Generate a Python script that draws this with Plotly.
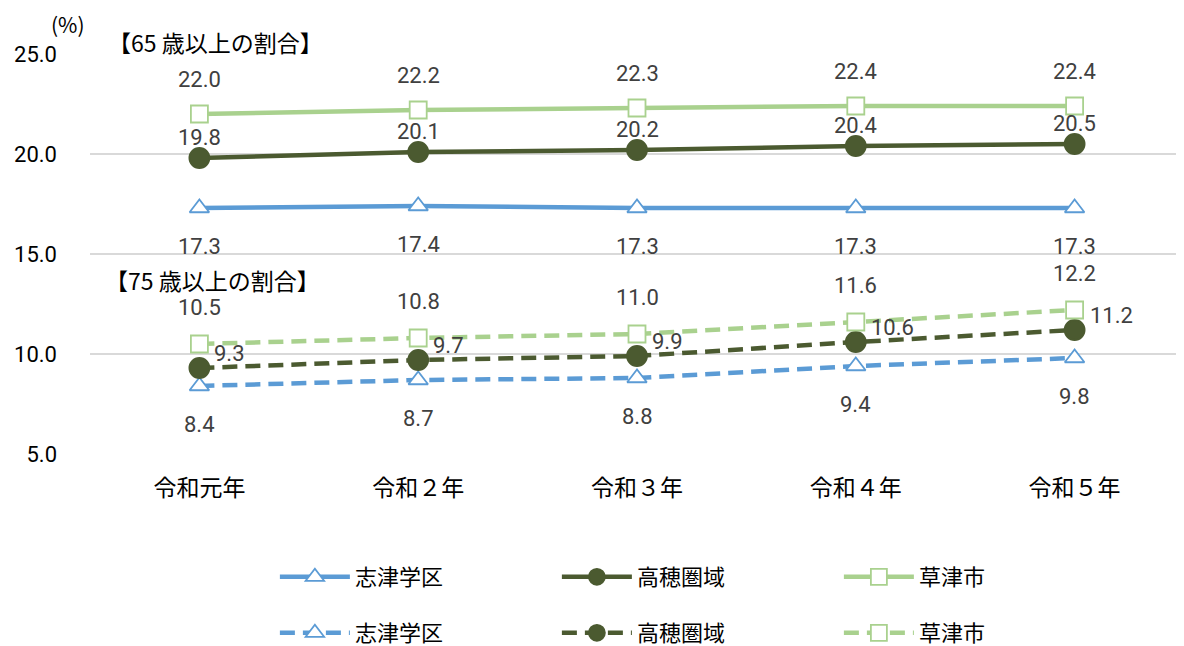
import plotly.graph_objects as go

categories = ["令和元年", "令和２年", "令和３年", "令和４年", "令和５年"]
series_names = ["志津学区", "高穂圏域", "草津市"]

shizu_65 = [17.3, 17.4, 17.3, 17.3, 17.3]
takaho_65 = [19.8, 20.1, 20.2, 20.4, 20.5]
kusatsu_65 = [22.0, 22.2, 22.3, 22.4, 22.4]

shizu_75 = [8.4, 8.7, 8.8, 9.4, 9.8]
takaho_75 = [9.3, 9.7, 9.9, 10.6, 11.2]
kusatsu_75 = [10.5, 10.8, 11.0, 11.6, 12.2]

y_ticks = [5, 10, 15, 20, 25]

BLUE = "#5B9BD5"
DARK = "#4B5A30"
LIGHT = "#A9D18E"
NUM_FONT = "Roboto, Liberation Sans, sans-serif"
JP_FONT = "Noto Sans CJK JP, sans-serif"

fig = go.Figure()

specs = [
    (shizu_65, series_names[0], BLUE, "solid", "triangle-up", 17, "white", "legend", dict(xshift=0, yshift=-38, xanchor="center")),
    (takaho_65, series_names[1], DARK, "solid", "circle", 20, DARK, "legend", dict(xshift=0, yshift=21, xanchor="center")),
    (kusatsu_65, series_names[2], LIGHT, "solid", "square", 17, "white", "legend", dict(xshift=0, yshift=35, xanchor="center")),
    (shizu_75, series_names[0], BLUE, "dash", "triangle-up", 17, "white", "legend2", dict(xshift=0, yshift=-38, xanchor="center")),
    (takaho_75, series_names[1], DARK, "dash", "circle", 20, DARK, "legend2", dict(xshift=13, yshift=15, xanchor="left")),
    (kusatsu_75, series_names[2], LIGHT, "dash", "square", 17, "white", "legend2", dict(xshift=0, yshift=37, xanchor="center")),
]

annotations = []
for vals, name, color, dash, sym, size, fill, leg, lab in specs:
    fig.add_trace(go.Scatter(
        x=categories, y=vals, name=name, mode="lines+markers", legend=leg,
        line=dict(color=color, width=4.5, dash="15px,8px" if dash == "dash" else "solid"),
        marker=dict(symbol=sym, size=size, color=fill, line=dict(color=color, width=1.8)),
    ))
    for c, v in zip(categories, vals):
        annotations.append(dict(
            x=c, y=v, xref="x", yref="y", text=f"{v:.1f}", showarrow=False,
            font=dict(family=NUM_FONT, size=22, color="#404040"),
            xshift=lab["xshift"], yshift=lab["yshift"], xanchor=lab["xanchor"], yanchor="middle",
        ))

annotations += [
    dict(x=-0.003, y=1.075, xref="paper", yref="paper", text="(%)", showarrow=False,
         font=dict(family=JP_FONT, size=21, color="#000000"), xanchor="right", yanchor="middle"),
    dict(x=0.015, y=1.03, xref="paper", yref="paper", text="【65 歳以上の割合】", showarrow=False,
         font=dict(family=JP_FONT, size=23, color="#000000"), xanchor="left", yanchor="middle"),
    dict(x=0.012, y=0.436, xref="paper", yref="paper", text="【75 歳以上の割合】", showarrow=False,
         font=dict(family=JP_FONT, size=23, color="#000000"), xanchor="left", yanchor="middle"),
]

W, H = 1176, 638
legend_common = dict(orientation="h", xanchor="left", yanchor="middle", yref="container",
                     entrywidth=197, font=dict(family=JP_FONT, size=22, color="#000000"),
                     itemwidth=70, tracegroupgap=0, bgcolor="rgba(0,0,0,0)")

fig.update_layout(
    width=W, height=H,
    margin=dict(l=82, r=0, t=46, b=192),
    plot_bgcolor="white", paper_bgcolor="white",
    annotations=annotations,
    xaxis=dict(type="category", range=[-0.5, 4.5], showgrid=False, showline=False, zeroline=False,
               automargin=False, ticks="",
               tickfont=dict(family=JP_FONT, size=23, color="#000000"), ticklabelstandoff=18),
    yaxis=dict(range=[5, 25], tickvals=y_ticks, ticktext=[f"{t:.1f}" for t in y_ticks],
               showgrid=True, gridcolor="#D9D9D9", gridwidth=1.5, zeroline=False, showline=False,
               automargin=False, ticks="",
               tickfont=dict(family=NUM_FONT, size=22, color="#000000"), ticklabelstandoff=32),
    legend=dict(x=0.169, y=1 - 569 / H, **legend_common),
    legend2=dict(x=0.169, y=1 - 625 / H, **legend_common),
    showlegend=True,
)

fig.write_html("out.html")
